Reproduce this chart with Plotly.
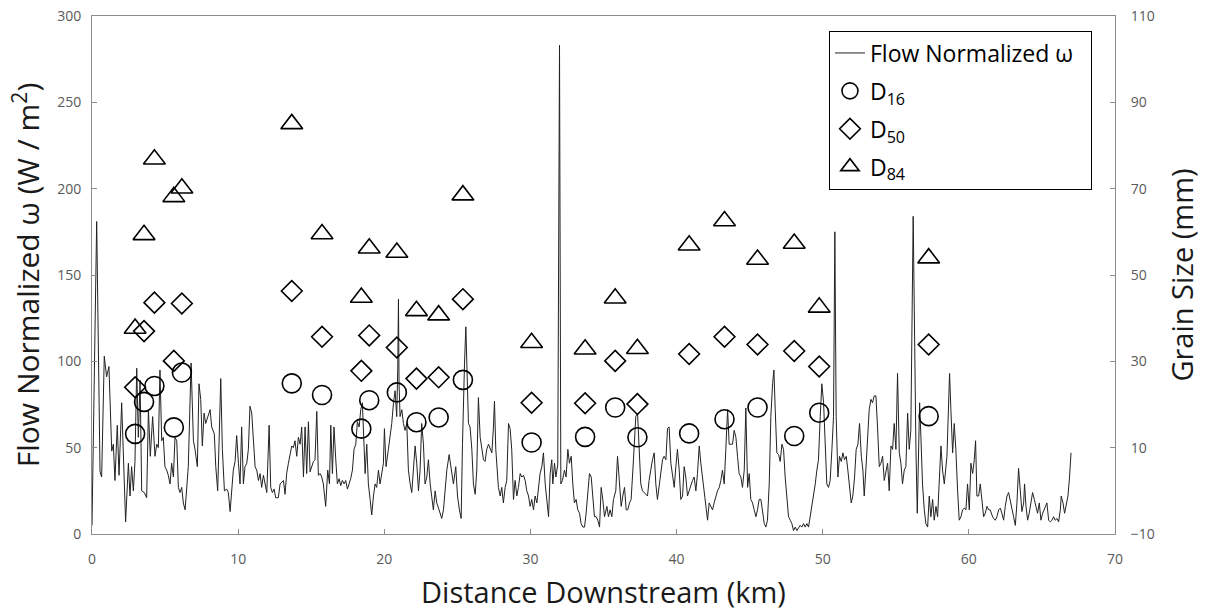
import plotly.graph_objects as go

# ---------------- data ----------------
distance_km = [
    0.00, 0.32, 0.55, 0.66, 0.84, 1.00, 1.16, 1.35, 1.46, 1.57, 1.73, 1.85, 2.03, 2.14, 2.30, 2.49, 2.60, 2.71, 2.83, 2.94,
    3.06, 3.17, 3.29, 3.40, 3.58, 3.74, 3.86, 3.99, 4.15, 4.31, 4.43, 4.54, 4.65, 4.77, 4.88, 4.99, 5.11, 5.22, 5.34, 5.45,
    5.57, 5.68, 5.80, 5.91, 6.02, 6.14, 6.25, 6.37, 6.59, 6.78, 6.94, 7.05, 7.21, 7.32, 7.44, 7.55, 7.67, 7.78, 7.92, 8.08,
    8.19, 8.37, 8.47, 8.60, 8.69, 8.81, 8.92, 9.06, 9.22, 9.33, 9.45, 9.56, 9.67, 9.79, 9.90, 10.02, 10.13, 10.24, 10.36, 10.47,
    10.59, 10.70, 10.81, 10.93, 11.04, 11.16,
    11.27, 11.39, 11.50, 11.61, 11.73, 11.84, 11.96, 12.12, 12.23, 12.34,
    12.46, 12.57, 12.75, 12.87, 12.98, 13.10, 13.21, 13.32, 13.44, 13.55,
    13.67, 13.78, 13.89, 14.01, 14.12, 14.24, 14.35, 14.47, 14.58, 14.69,
    14.81, 14.92, 15.04, 15.15, 15.26, 15.38, 15.49, 15.61, 15.72, 15.83,
    15.99, 16.13, 16.25, 16.34, 16.45, 16.56, 16.68, 16.79, 16.91, 17.02,
    17.13, 17.25, 17.36, 17.48, 17.59, 17.70, 17.82, 17.93, 18.05, 18.16,
    18.28, 18.39, 18.50, 18.62, 18.69, 18.80, 18.91, 19.03, 19.14, 19.26,
    19.37, 19.48, 19.60, 19.71, 19.83, 19.94, 20.01, 20.12, 20.28, 20.40,
    20.51, 20.63, 20.74, 20.85, 20.92, 20.97, 21.01, 21.08, 21.20, 21.31,
    21.42, 21.54, 21.65, 21.77, 21.88, 21.99, 22.11, 22.22, 22.34, 22.45,
    22.56, 22.68, 22.79, 22.91, 23.02, 23.14, 23.25, 23.36, 23.48,
    23.59, 23.71, 23.82, 23.93, 24.05, 24.16, 24.28, 24.44, 24.57, 24.73,
    24.89, 25.01, 25.14, 25.26, 25.35, 25.42, 25.49, 25.58, 25.67, 25.76,
    25.87, 25.99, 26.10, 26.22, 26.33, 26.44, 26.56, 26.67, 26.79, 26.90,
    27.01, 27.13, 27.24, 27.36, 27.47, 27.54, 27.63, 27.70, 27.81, 27.93,
    28.04, 28.15, 28.27, 28.38, 28.50, 28.61, 28.72, 28.84, 28.95, 29.07,
    29.18, 29.30, 29.41, 29.52, 29.64, 29.75, 29.87, 29.98, 30.09, 30.21,
    30.32, 30.44, 30.55, 30.66, 30.78, 30.89, 31.01, 31.12, 31.24, 31.35,
    31.46, 31.53, 31.65, 31.74, 31.83, 31.87, 31.99, 32.08, 32.19, 32.33,
    32.44, 32.56, 32.67, 32.79, 32.90, 33.01, 33.13, 33.24, 33.36, 33.47,
    33.59, 33.70, 33.81, 33.93, 34.04, 34.16, 34.27, 34.38, 34.50, 34.61,
    34.73, 34.84, 34.95, 35.07,
    35.23, 35.34, 35.45, 35.57, 35.68, 35.84, 35.96, 36.09, 36.21, 36.32,
    36.44, 36.55, 36.66, 36.78, 36.89, 37.01, 37.12, 37.21, 37.33, 37.44,
    37.55, 37.67, 37.78, 37.90, 38.01, 38.12, 38.24, 38.35, 38.47, 38.58,
    38.69, 38.81, 38.92, 39.04, 39.15, 39.27, 39.38, 39.49, 39.61, 39.72,
    39.84, 39.95, 40.06, 40.18, 40.29, 40.41, 40.52, 40.63, 40.75, 40.86,
    40.98, 41.09, 41.20, 41.32, 41.43, 41.55, 41.66, 41.77, 41.89, 42.00,
    42.12, 42.23, 42.35, 42.46, 42.57, 42.69, 42.80, 42.92, 43.03, 43.14,
    43.26, 43.37, 43.49, 43.60, 43.71, 43.83, 43.94, 44.06, 44.17, 44.28,
    44.40, 44.51, 44.63, 44.74, 44.86, 44.97, 45.08, 45.20, 45.31, 45.43,
    45.54, 45.65, 45.77, 45.88, 46.00, 46.11, 46.22, 46.34, 46.45, 46.57,
    46.66,
    46.75,
    46.86, 46.98, 47.09, 47.21, 47.32, 47.43, 47.55, 47.66, 47.78, 47.89,
    48.00, 48.12, 48.23, 48.35, 48.46, 48.57, 48.69, 48.80, 48.92, 49.03,
    49.14, 49.26, 49.37, 49.49, 49.60, 49.71, 49.83, 49.94, 50.06, 50.17,
    50.28, 50.40, 50.51, 50.63, 50.74, 50.83, 50.92, 51.04, 51.15, 51.27,
    51.38, 51.49, 51.61, 51.72, 51.84, 51.95, 52.06, 52.18, 52.29, 52.41,
    52.52, 52.64, 52.75, 52.84, 52.95, 53.07, 53.18, 53.30, 53.41, 53.52,
    53.64, 53.75, 53.87, 53.98, 54.10, 54.21, 54.32, 54.44, 54.55, 54.67,
    54.78, 54.89, 55.01, 55.12, 55.24, 55.35, 55.46, 55.58, 55.69, 55.81,
    55.92, 56.03, 56.19, 56.29, 56.38, 56.47, 56.56, 56.63, 56.72, 56.83,
    56.95, 57.06, 57.18, 57.29, 57.40, 57.52, 57.63, 57.75, 57.86, 57.97,
    58.09, 58.20, 58.32,
    58.50, 58.61, 58.68, 58.77, 58.89, 59.00, 59.11, 59.23, 59.34, 59.46,
    59.57, 59.69, 59.80, 59.91, 60.03, 60.14, 60.26, 60.37, 60.46, 60.55,
    60.67, 60.78, 60.89, 61.01, 61.12, 61.24, 61.35, 61.46, 61.58, 61.69,
    61.81, 61.92, 62.04, 62.15, 62.26, 62.38, 62.49, 62.61, 62.72, 62.83,
    62.95, 63.06, 63.18, 63.29, 63.40, 63.52, 63.63, 63.75, 63.81, 63.91,
    64.02, 64.13, 64.25, 64.36, 64.48, 64.59, 64.70, 64.82, 64.93, 65.05,
    65.16, 65.27, 65.34, 65.46, 65.57, 65.69, 65.80, 65.91, 66.03, 66.14,
    66.26, 66.32, 66.44, 66.55, 66.67, 66.78, 66.89, 66.99,
]

omega = [
    5, 181, 36, 33, 103, 91, 97, 48, 52, 31, 63, 34, 76, 52, 7, 41, 22, 39, 25, 42,
    96, 56, 89, 25, 24, 21, 72, 45, 68, 45, 52, 50, 95, 54, 56, 39, 37, 34, 29, 41,
    33, 56, 54, 27, 24, 27, 18, 14, 39, 99, 54, 49, 39, 87, 78, 51, 70, 64, 68, 72,
    62, 58, 39, 25, 52, 90, 49, 25, 26, 24, 13, 27, 37, 42, 57, 41, 29, 62, 29, 39,
    41, 49, 74, 70, 54, 39,
    37, 31, 35, 27, 34, 29, 24, 63, 27, 24,
    26, 21, 21, 29, 30, 31, 23, 35, 41, 45,
    51, 50, 54, 45, 56, 52, 62, 33, 62, 35,
    65, 36, 40, 42, 43, 71, 34, 35, 33, 29,
    16, 37, 29, 63, 35, 62, 43, 29, 32, 28,
    31, 29, 31, 26, 29, 32, 37, 49, 52, 65,
    62, 72, 76, 45, 35, 52, 29, 20, 11, 22,
    29, 27, 37, 29, 35, 41, 61, 39, 49, 56,
    64, 76, 83, 68, 95, 136, 87, 68, 72, 64,
    60, 64, 37, 29, 24, 37, 51, 41, 25, 37,
    64, 52, 29, 33, 43, 29, 20, 14, 25,
    18, 15, 12, 9, 14, 24, 37, 46, 37, 29,
    39, 22, 14, 9, 52, 87, 99, 120, 87, 64,
    62, 49, 29, 23, 37, 79, 56, 49, 43, 42,
    49, 52, 49, 47, 62, 77, 49, 37, 27, 22,
    27, 18, 27, 31, 64, 61, 49, 20, 31, 22,
    27, 35, 33, 34, 31, 25, 22, 16, 20, 14,
    22, 18, 29, 35, 39, 47, 29, 20, 10, 35,
    43, 29, 41, 33, 37, 40, 283, 29, 31, 37,
    33, 49, 41, 45, 29, 18, 20, 14, 12, 6,
    4, 4, 12, 22, 35, 33, 22, 10, 10, 8,
    4, 27, 20, 10,
    16, 10, 14, 10, 20, 25, 45, 29, 16, 22,
    27, 14, 14, 18, 20, 37, 52, 68, 70, 49,
    29, 25, 24, 23, 22, 31, 39, 43, 47, 29,
    20, 29, 37, 43, 45, 43, 61, 62, 41, 35,
    27, 39, 49, 37, 20, 22, 39, 33, 22, 25,
    29, 31, 33, 25, 35, 51, 41, 33, 24, 14,
    8, 18, 16, 14, 18, 22, 25, 27, 31, 37,
    29, 49, 72, 52, 52, 52, 60, 56, 45, 35,
    33, 27, 37, 73, 27, 35, 20, 18, 14, 10,
    14, 20, 20, 14, 6, 4, 8, 29, 68, 87,
    95,
    72,
    47, 46, 42, 52, 49, 33, 20, 10, 8, 6,
    2, 4, 2, 4, 5, 4, 6, 4, 6, 4,
    10, 16, 20, 29, 37, 43, 68, 87, 76, 49,
    29, 27, 31, 49, 68, 175, 68, 33, 45, 42,
    47, 43, 45, 37, 25, 18, 22, 33, 49, 52,
    64, 45, 37, 22, 37, 52, 72, 78, 76, 80,
    80, 62, 39, 41, 45, 31, 37, 41, 25, 51,
    49, 64, 49, 93, 47, 41, 29, 37, 39, 70,
    49, 60, 184, 87, 49, 12, 49, 76, 56, 29,
    14, 6, 4, 22, 10, 20, 8, 16, 10, 33,
    51, 37, 29,
    45, 72, 93, 72, 47, 64, 49, 25, 8, 10,
    14, 15, 14, 29, 14, 41, 35, 43, 54, 22,
    22, 29, 20, 10, 12, 16, 14, 14, 11, 9,
    8, 10, 14, 15, 12, 8, 16, 22, 24, 20,
    14, 10, 5, 18, 38, 24, 13, 18, 29, 16,
    8, 12, 18, 24, 20, 16, 12, 18, 8, 12,
    14, 16, 18, 8, 7, 8, 10, 8, 9, 7,
    14, 22, 18, 12, 18, 22, 33, 47,
]

site_km = [2.95, 3.56, 4.27, 5.60, 6.15, 13.67, 15.74, 18.43, 18.97, 20.86, 22.20, 23.72,
           25.38, 30.08, 33.74, 35.80, 37.32, 40.86, 43.28, 45.54, 48.05, 49.76, 57.25]
d16 = [13.2, 20.6, 24.3, 14.7, 27.4, 24.9, 22.2, 14.4, 21.0, 22.8, 15.9, 17.0,
       25.7, 11.2, 12.5, 19.3, 12.4, 13.3, 16.6, 19.3, 12.7, 18.1, 17.3]
d50 = [24.0, 37.0, 43.6, 30.1, 43.4, 46.3, 35.7, 27.8, 36.0, 33.2, 26.0, 26.3,
       44.4, 20.4, 20.3, 30.1, 20.1, 31.7, 35.7, 33.9, 32.4, 28.8, 33.9]
d84 = [37.6, 59.3, 76.8, 68.1, 70.1, 85.0, 59.5, 44.8, 56.2, 55.2, 41.7, 40.7,
       68.5, 34.3, 32.8, 44.6, 32.9, 56.9, 62.5, 53.6, 57.3, 42.5, 53.9]

x_ticks = [0, 10, 20, 30, 40, 50, 60, 70]
y_ticks = [0, 50, 100, 150, 200, 250, 300]
y2_ticks = [-10, 10, 30, 50, 70, 90, 110]

# ---------------- figure ----------------
FONT = "Open Sans"
AXIS_COL = "#8c8c8c"
TICK_COL = "#595959"
TITLE_COL = "#1a1a1a"
TITLE_SIZE = 29

fig = go.Figure()
fig.add_trace(go.Scatter(
    x=distance_km, y=omega, mode="lines", name="Flow Normalized ω\u00a0\u00a0",
    line=dict(color="#222222", width=1), legendgroup="g1"))
fig.add_trace(go.Scatter(
    x=site_km, y=d16, mode="markers", name="D<sub>16</sub>", yaxis="y2",
    marker=dict(symbol="circle-open", size=19, color="black", line=dict(width=1.6)),
    legendgroup="g2"))
fig.add_trace(go.Scatter(
    x=site_km, y=d50, mode="markers", name="D<sub>50</sub>", yaxis="y2",
    marker=dict(symbol="diamond-open", size=16, color="black", line=dict(width=1.6)),
    legendgroup="g3"))
fig.add_trace(go.Scatter(
    x=site_km, y=d84, mode="markers", name="D<sub>84</sub>", yaxis="y2",
    marker=dict(symbol="triangle-up-open", size=19, color="black", line=dict(width=1.6)),
    legendgroup="g4"))

axis_common = dict(showgrid=False, zeroline=False, showline=True, linecolor=AXIS_COL,
                   linewidth=1, ticks="inside", ticklen=5, tickcolor=AXIS_COL,
                   automargin=False,
                   tickfont=dict(family=FONT, size=14, color=TICK_COL))

fig.update_layout(
    width=1207, height=611,
    margin=dict(l=92, r=92, t=16, b=77, autoexpand=False),
    paper_bgcolor="white", plot_bgcolor="white",
    font=dict(family=FONT, color="black"),
    xaxis=dict(range=[0, 70], tickvals=x_ticks, mirror=True, ticklabelstandoff=12,
               title=dict(text="Distance Downstream (km)",
                          font=dict(family=FONT, size=TITLE_SIZE, color=TITLE_COL),
                          standoff=15),
               **axis_common),
    yaxis=dict(range=[0, 300], tickvals=y_ticks, ticklabelstandoff=7,
               title=dict(text="Flow Normalized ω (W / m<sup>2</sup>)",
                          font=dict(family=FONT, size=30, color=TITLE_COL), standoff=8),
               **axis_common),
    yaxis2=dict(range=[-10, 110], tickvals=y2_ticks, overlaying="y", side="right",
                ticklabelstandoff=12,
                title=dict(text="Grain Size (mm)",
                           font=dict(family=FONT, size=TITLE_SIZE, color=TITLE_COL),
                           standoff=18),
                **axis_common),
    legend=dict(x=0.7204, y=0.972, xanchor="left", yanchor="top",
                bgcolor="white", bordercolor="black", borderwidth=1,
                font=dict(family=FONT, size=23, color="black"),
                traceorder="grouped", tracegroupgap=5),
    showlegend=True,
)

fig.write_html("out.html")
